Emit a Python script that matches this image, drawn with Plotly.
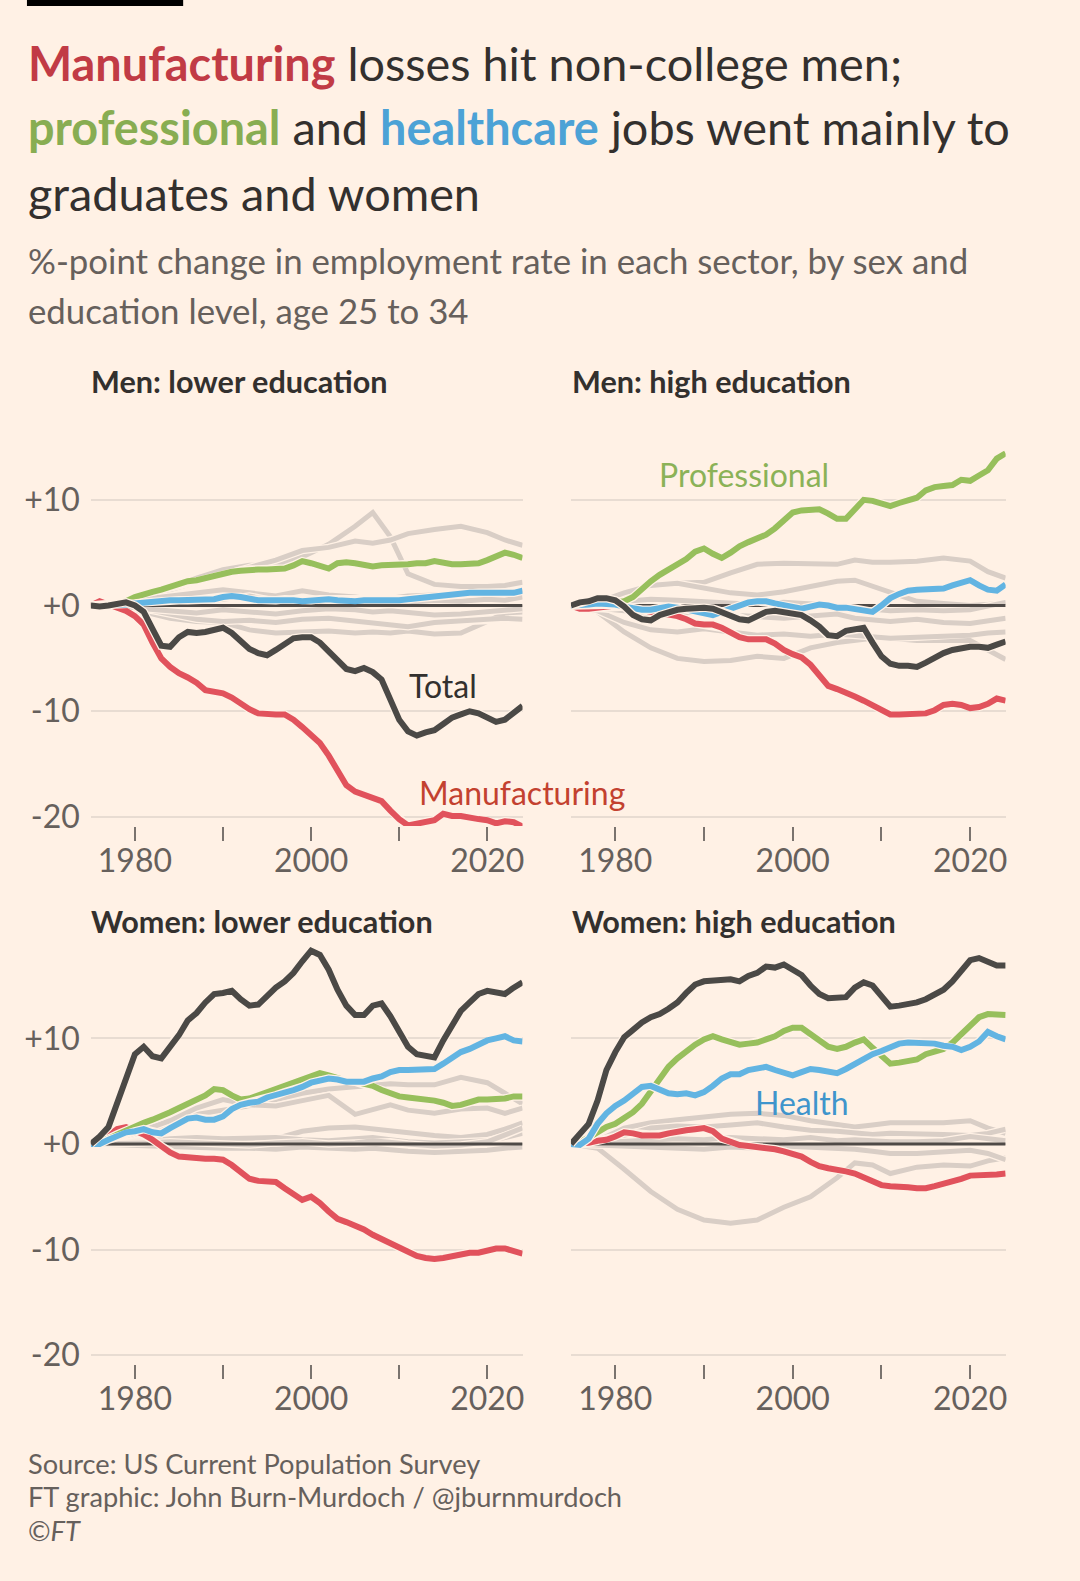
import plotly.graph_objects as go

# ---------------- data ----------------
YEARS = list(range(1975, 2025))
GYEARS = [1975, 1978, 1981, 1984, 1987, 1990, 1993, 1996, 1999, 2002, 2005,
          2007, 2009, 2011, 2014, 2017, 2020, 2022, 2024]

# Men: lower education
ML_TOT = [0.0, -0.1, 0.0, 0.2, 0.3, 0.0, -0.6, -2.2, -3.8, -3.9,
          -3.0, -2.5, -2.6, -2.5, -2.3, -2.1, -2.6, -3.4, -4.1, -4.5,
          -4.7, -4.2, -3.6, -3.1, -3.0, -3.0, -3.5, -4.4, -5.2, -6.0,
          -6.2, -5.9, -6.3, -7.0, -8.9, -10.8, -11.9, -12.3, -12.0, -11.8,
          -11.2, -10.6, -10.3, -10.0, -10.2, -10.6, -11.0, -10.8, -10.2, -9.5]
ML_MFG = [0.0, 0.4, 0.1, -0.2, -0.5, -1.0, -1.8, -3.5, -5.0, -5.8,
          -6.4, -6.8, -7.3, -8.0, -8.2, -8.3, -8.7, -9.3, -9.8, -10.2,
          -10.3, -10.3, -10.3, -10.8, -11.5, -12.3, -13.0, -14.2, -15.6, -17.0,
          -17.6, -17.9, -18.1, -18.5, -19.4, -20.2, -20.8, -20.6, -20.5, -20.3,
          -19.7, -19.9, -19.9, -20.1, -20.2, -20.3, -20.6, -20.4, -20.5, -20.9]
ML_PRO = [0.0, 0.0, 0.1, 0.2, 0.4, 0.8, 1.1, 1.3, 1.5, 1.8,
          2.1, 2.3, 2.4, 2.6, 2.9, 3.1, 3.2, 3.3, 3.4, 3.4,
          3.4, 3.5, 3.5, 3.8, 4.2, 4.0, 3.7, 3.5, 4.0, 4.1,
          4.0, 3.8, 3.7, 3.8, 3.8, 3.9, 3.9, 4.0, 4.0, 4.2,
          4.0, 3.9, 3.9, 3.9, 4.0, 4.3, 4.7, 5.0, 4.8, 4.5]
ML_HLT = [0.0, 0.0, 0.0, 0.0, 0.1, 0.2, 0.3, 0.4, 0.5, 0.5,
          0.5, 0.5, 0.5, 0.5, 0.6, 0.8, 0.9, 0.8, 0.6, 0.5,
          0.5, 0.5, 0.6, 0.5, 0.4, 0.5, 0.6, 0.6, 0.5, 0.4,
          0.4, 0.5, 0.5, 0.4, 0.4, 0.5, 0.6, 0.7, 0.8, 0.9,
          0.9, 1.0, 1.2, 1.2, 1.2, 1.2, 1.1, 1.2, 1.2, 1.4]
ML_GRAY = [
    [0, 0.2, 0.8, 1.6, 2.6, 3.4, 3.8, 3.8, 4.6, 5.8, 7.5, 8.8, 6.5, 3.0, 2.0, 1.8, 1.8, 1.9, 2.2],
    [0, 0.3, 0.8, 1.5, 2.2, 2.8, 3.5, 4.3, 5.2, 5.5, 6.1, 5.9, 6.2, 6.8, 7.2, 7.5, 6.9, 6.2, 5.7],
    [0, 0.3, 0.6, 0.9, 1.3, 1.5, 1.2, 0.9, 1.4, 1.0, 0.8, 0.6, 0.7, 0.9, 1.0, 1.1, 0.8, 1.0, 1.5],
    [0, -0.2, -0.6, -1.2, -1.5, -1.6, -2.3, -2.6, -2.5, -2.4, -2.6, -2.5, -2.6, -2.4, -2.7, -2.6, -1.5, -0.7, -0.6],
    [0, -0.1, -0.3, -0.8, -1.3, -1.5, -1.4, -1.6, -1.3, -1.2, -1.5, -1.7, -1.9, -2.0, -1.6, -1.5, -1.3, -1.2, -1.3],
    [0, 0.0, -0.3, -0.5, -0.7, -0.4, -0.6, -0.8, -0.5, -0.3, -0.4, -0.6, -0.5, -0.7, -0.9, -0.8, -0.6, -0.4, -0.3],
    [0, 0.1, 0.2, 0.4, 0.3, 0.6, 0.9, 0.4, 0.2, 0.5, 0.3, 0.2, 0.1, 0.3, 0.5, 0.4, 0.6, 0.5, 0.8],
]

# Men: high education
MH_TOT = [0.0, 0.3, 0.4, 0.7, 0.7, 0.5, -0.1, -0.9, -1.3, -1.4,
          -0.9, -0.6, -0.4, -0.3, -0.2, -0.2, -0.3, -0.6, -1.0, -1.3,
          -1.4, -1.0, -0.6, -0.5, -0.6, -0.8, -0.9, -1.4, -2.0, -2.8,
          -2.9, -2.4, -2.3, -2.1, -3.5, -4.8, -5.5, -5.7, -5.7, -5.8,
          -5.4, -4.9, -4.5, -4.2, -4.0, -3.9, -3.9, -4.0, -3.7, -3.4]
MH_MFG = [0.0, -0.3, -0.3, -0.2, -0.1, 0.0, -0.1, -0.3, -0.5, -0.6,
          -0.7, -0.8, -1.0, -1.3, -1.7, -1.8, -1.8, -2.1, -2.5, -3.0,
          -3.2, -3.2, -3.2, -3.6, -4.2, -4.6, -4.9, -5.6, -6.7, -7.6,
          -7.9, -8.2, -8.6, -9.0, -9.4, -9.9, -10.3, -10.3, -10.3, -10.3,
          -10.2, -9.9, -9.4, -9.3, -9.4, -9.7, -9.6, -9.3, -8.8, -9.0]
MH_PRO = [0.0, 0.0, 0.2, 0.3, 0.4, 0.3, 0.4, 0.8, 1.6, 2.3,
          2.9, 3.4, 3.8, 4.4, 5.1, 5.4, 4.9, 4.5, 5.0, 5.6,
          6.0, 6.4, 6.7, 7.3, 8.0, 8.8, 9.0, 9.0, 9.1, 8.7,
          8.2, 8.2, 9.2, 10.0, 9.9, 9.6, 9.4, 9.7, 10.0, 10.2,
          10.9, 11.2, 11.3, 11.4, 11.9, 11.8, 12.3, 12.8, 13.9, 14.4]
MH_HLT = [0.0, 0.0, 0.1, 0.2, 0.2, 0.1, -0.1, -0.3, -0.4, -0.4,
          -0.2, -0.1, -0.2, -0.4, -0.6, -0.8, -0.9, -0.6, -0.3, 0.1,
          0.3, 0.4, 0.4, 0.2, 0.0, -0.2, -0.3, -0.1, 0.1, 0.0,
          -0.2, -0.2, -0.3, -0.5, -0.6, 0.0, 0.7, 1.1, 1.4, 1.5,
          1.5, 1.5, 1.6, 1.9, 2.1, 2.4, 1.9, 1.5, 1.4, 2.0]
MH_GRAY = [
    [0, 0.4, 1.0, 1.9, 2.1, 2.2, 3.1, 3.9, 4.0, 3.9, 3.9, 4.3, 4.1, 4.1, 4.2, 4.5, 4.2, 3.2, 2.6],
    [0, 0.3, 1.2, 1.9, 2.1, 1.6, 1.2, 1.0, 1.3, 1.8, 2.3, 2.4, 1.8, 1.2, 0.4, 0.2, 0.0, 0.1, 0.3],
    [0, -0.6, -2.5, -4.0, -5.0, -5.3, -5.2, -4.8, -5.0, -4.0, -3.5, -3.3, -3.1, -3.1, -3.3, -3.3, -3.3, -4.2, -5.1],
    [0, -0.5, -1.6, -2.3, -2.5, -2.2, -2.5, -2.8, -2.7, -2.9, -2.7, -2.8, -3.0, -3.1, -3.0, -2.9, -2.8, -2.6, -2.5],
    [0, -0.2, -0.5, -0.8, -0.7, -0.6, -0.9, -1.0, -1.2, -1.0, -0.8, -1.2, -1.3, -1.5, -1.3, -1.6, -1.7, -1.5, -1.2],
    [0, 0.2, 0.3, 0.6, 0.5, 0.4, 0.3, 0.1, 0.3, 0.2, 0.0, -0.2, -0.3, -0.5, -0.4, -0.5, -0.4, -0.1, 0.3],
]

# Women: lower education
WL_TOT = [0.0, 0.7, 1.6, 3.8, 6.3, 8.5, 9.2, 8.3, 8.1, 9.2,
          10.3, 11.7, 12.4, 13.4, 14.2, 14.3, 14.5, 13.7, 13.1, 13.2,
          14.0, 14.8, 15.4, 16.2, 17.3, 18.3, 17.9, 16.5, 14.6, 13.1,
          12.2, 12.2, 13.1, 13.3, 12.1, 10.7, 9.2, 8.5, 8.4, 8.2,
          9.8, 11.3, 12.6, 13.4, 14.2, 14.5, 14.4, 14.2, 14.8, 15.3]
WL_MFG = [0.0, 0.3, 0.8, 1.4, 1.6, 1.3, 0.9, 0.4, -0.2, -0.8,
          -1.2, -1.3, -1.3, -1.4, -1.4, -1.5, -2.0, -2.6, -3.3, -3.5,
          -3.5, -3.6, -4.2, -4.8, -5.3, -5.0, -5.6, -6.4, -7.1, -7.4,
          -7.7, -8.1, -8.6, -9.0, -9.5, -9.8, -10.2, -10.6, -10.8, -10.9,
          -10.8, -10.6, -10.4, -10.3, -10.3, -10.1, -9.9, -9.9, -10.1, -10.4]
WL_PRO = [0.0, 0.2, 0.5, 0.9, 1.3, 1.7, 2.0, 2.3, 2.6, 3.0,
          3.4, 3.8, 4.2, 4.6, 5.2, 5.1, 4.6, 4.2, 4.3, 4.6,
          4.9, 5.2, 5.5, 5.8, 6.1, 6.3, 6.7, 6.5, 6.2, 6.0,
          5.9, 5.7, 5.5, 5.1, 4.8, 4.5, 4.4, 4.3, 4.3, 4.1,
          3.9, 3.6, 3.7, 4.0, 4.2, 4.2, 4.2, 4.3, 4.5, 4.5]
WL_HLT = [0.0, 0.0, 0.4, 0.7, 1.1, 1.2, 1.4, 1.1, 1.0, 1.5,
          1.9, 2.4, 2.5, 2.3, 2.3, 2.6, 3.3, 3.7, 3.9, 4.0,
          4.4, 4.6, 4.9, 5.1, 5.4, 5.8, 6.0, 6.2, 6.1, 5.9,
          5.9, 5.9, 6.2, 6.4, 6.8, 7.0, 7.0, 7.0, 7.0, 7.1,
          7.6, 8.2, 8.7, 9.0, 9.4, 9.8, 10.0, 10.2, 9.8, 9.7]
WL_GRAY = [
    [0, 0.4, 1.2, 2.0, 2.8, 3.2, 3.6, 4.2, 4.8, 5.2, 5.4, 5.5, 5.7, 5.6, 5.6, 6.3, 5.8, 4.8, 3.8],
    [0, 0.5, 1.3, 2.2, 3.4, 4.2, 3.7, 3.6, 4.1, 4.6, 2.8, 3.2, 3.7, 3.2, 2.9, 3.3, 3.4, 2.9, 3.4],
    [0, 0.1, 0.3, 0.5, 0.6, 0.6, 0.5, 0.5, 1.2, 1.5, 1.6, 1.4, 1.2, 1.1, 0.8, 0.6, 0.9, 1.4, 2.0],
    [0, 0.1, 0.2, 0.5, 0.6, 0.5, 0.5, 0.6, 0.4, 0.3, 0.5, 0.6, 0.4, 0.2, 0.1, 0.2, 0.3, 0.6, 1.0],
    [0, -0.1, -0.2, -0.3, -0.3, -0.4, -0.4, -0.5, -0.3, -0.4, -0.5, -0.4, -0.6, -0.7, -0.8, -0.7, -0.6, -0.4, -0.3],
    [0, 0.0, 0.1, 0.2, 0.1, 0.0, -0.1, 0.1, 0.2, 0.0, 0.1, 0.3, 0.2, 0.0, -0.2, -0.1, 0.2, 0.8, 1.5],
]

# Women: high education
WH_TOT = [0.0, 1.0, 1.9, 4.1, 7.0, 8.7, 10.1, 10.8, 11.5, 12.0,
          12.3, 12.8, 13.4, 14.3, 15.1, 15.4, 15.5, 15.5, 15.6, 15.4,
          15.9, 16.2, 16.8, 16.7, 17.0, 16.5, 16.0, 15.0, 14.2, 13.8,
          13.8, 13.9, 14.8, 15.3, 15.0, 13.9, 13.0, 13.1, 13.2, 13.4,
          13.7, 14.1, 14.6, 15.4, 16.5, 17.4, 17.6, 17.3, 16.9, 16.9]
WH_MFG = [0.0, 0.0, 0.1, 0.3, 0.4, 0.7, 1.1, 1.0, 0.8, 0.8,
          0.8, 1.0, 1.2, 1.3, 1.4, 1.5, 1.2, 0.5, 0.2, -0.1,
          -0.2, -0.3, -0.3, -0.5, -0.7, -0.9, -1.2, -1.7, -2.1, -2.3,
          -2.4, -2.6, -2.8, -3.2, -3.6, -3.9, -4.0, -4.0, -4.1, -4.2,
          -4.2, -4.0, -3.8, -3.5, -3.3, -3.0, -3.0, -3.0, -2.9, -2.8]
WH_PRO = [0.0, 0.2, 0.6, 1.1, 1.6, 1.9, 2.4, 3.0, 3.8, 4.9,
          6.0, 7.3, 8.1, 8.8, 9.4, 9.9, 10.2, 9.9, 9.7, 9.4,
          9.5, 9.6, 9.9, 10.2, 10.7, 11.0, 11.0, 10.4, 9.8, 9.2,
          9.0, 9.2, 9.6, 9.9, 9.1, 8.3, 7.6, 7.7, 7.8, 8.0,
          8.5, 8.7, 9.0, 9.6, 10.4, 11.2, 12.0, 12.3, 12.3, 12.2]
WH_HLT = [0.0, -0.1, 0.5, 1.9, 2.9, 3.6, 4.1, 4.8, 5.4, 5.5,
          5.1, 4.8, 4.7, 4.8, 4.6, 4.9, 5.5, 6.2, 6.6, 6.6,
          7.0, 7.1, 7.3, 7.0, 6.7, 6.5, 6.8, 7.1, 7.0, 6.8,
          6.7, 7.1, 7.6, 8.1, 8.5, 8.8, 9.2, 9.5, 9.6, 9.6,
          9.5, 9.5, 9.3, 9.2, 8.9, 9.2, 9.7, 10.6, 10.2, 9.9]
WH_GRAY = [
    [0, -0.4, -2.4, -4.5, -6.2, -7.2, -7.5, -7.2, -6.0, -5.0, -3.2, -1.8, -2.0, -2.8, -2.2, -2.0, -2.1, -1.6, -1.3],
    [0, 0.3, 1.5, 2.0, 2.3, 2.6, 2.8, 2.9, 2.7, 2.2, 1.8, 1.6, 1.8, 2.0, 2.0, 2.0, 2.2, 1.5, 1.0],
    [0, 0.2, 0.8, 1.5, 1.7, 1.6, 1.8, 2.0, 1.6, 1.3, 1.2, 1.1, 0.9, 1.0, 1.0, 0.9, 0.8, 1.0, 1.4],
    [0, -0.1, -0.2, -0.3, -0.4, -0.5, -0.3, -0.4, -0.2, -0.3, -0.4, -0.5, -0.7, -0.9, -0.9, -0.8, -0.6, -0.9, -1.5],
    [0, 0.1, 0.3, 0.4, 0.5, 0.4, 0.6, 0.5, 0.4, 0.6, 0.3, 0.4, 0.3, 0.2, 0.2, 0.3, 0.7, 0.5, 0.3],
]

PANEL_TITLES = ["Men: lower education", "Men: high education",
                "Women: lower education", "Women: high education"]
Y_TICKS = [-20, -10, 0, 10]
Y_TICKTEXT = ["-20", "-10", "+0", "+10"]
X_TICKS = [1980, 1990, 2000, 2010, 2020]
X_TICKTEXT = ["1980", "", "2000", "", "2020"]

# ---------------- style ----------------
W, H = 1080, 1581
BG = "#FFF1E5"
FONT = "Lato"
TXT = "#33302E"
MUTED = "#66605C"
GRID = "#E8DCD2"
C_GRAY = "#D9CEC6"
C_RED = "#E1525C"
C_GREEN = "#97BF5C"
C_BLUE = "#62B4E2"
C_BLACK = "#4B4946"
C_ZERO = "#4F4A47"


def px(x):
    return x / W


def py(y):
    return 1 - y / H


fig = go.Figure()

panels = [
    (ML_GRAY, ML_MFG, ML_PRO, ML_HLT, ML_TOT),
    (MH_GRAY, MH_MFG, MH_PRO, MH_HLT, MH_TOT),
    (WL_GRAY, WL_MFG, WL_PRO, WL_HLT, WL_TOT),
    (WH_GRAY, WH_MFG, WH_PRO, WH_HLT, WH_TOT),
]


def add_line(xs, ys, color, width, idx):
    xa = "x" if idx == 0 else f"x{idx + 1}"
    ya = "y" if idx == 0 else f"y{idx + 1}"
    fig.add_trace(go.Scatter(x=xs, y=ys, mode="lines", xaxis=xa, yaxis=ya,
                             line=dict(color=BG, width=width + 2.5),
                             hoverinfo="skip", showlegend=False))
    fig.add_trace(go.Scatter(x=xs, y=ys, mode="lines", xaxis=xa, yaxis=ya,
                             line=dict(color=color, width=width),
                             hoverinfo="skip", showlegend=False))


for i, (grays, mfg, pro, hlt, tot) in enumerate(panels):
    for g in grays:
        add_line(GYEARS, g, C_GRAY, 5, i)
    xa = "x" if i == 0 else f"x{i + 1}"
    ya = "y" if i == 0 else f"y{i + 1}"
    fig.add_trace(go.Scatter(x=[YEARS[0], YEARS[-1]], y=[0, 0], mode="lines",
                             xaxis=xa, yaxis=ya, line=dict(color=C_ZERO, width=3),
                             hoverinfo="skip", showlegend=False))
    add_line(YEARS, mfg, C_RED, 6, i)
    add_line(YEARS, pro, C_GREEN, 6, i)
    add_line(YEARS, hlt, C_BLUE, 6, i)
    add_line(YEARS, tot, C_BLACK, 6, i)

# axes geometry (pixels)
X_DOM = [(91, 523.5), (572, 1007.5)]
Y_DOM = [(444.2, 830.7), (943.4, 1371.9)]
Y_RNG = [[-20.85, 15.5], [-20.85, 19.5]]

layout_axes = {}
for i in range(4):
    col = i % 2
    row = i // 2
    xk = "xaxis" if i == 0 else f"xaxis{i + 1}"
    yk = "yaxis" if i == 0 else f"yaxis{i + 1}"
    ya = "y" if i == 0 else f"y{i + 1}"
    xa = "x" if i == 0 else f"x{i + 1}"
    layout_axes[xk] = dict(
        domain=[px(X_DOM[col][0]), px(X_DOM[col][1])], range=[1975, 2024],
        anchor=ya, showgrid=False, zeroline=False, showline=False,
        tickmode="array", tickvals=X_TICKS, ticktext=X_TICKTEXT,
        ticks="outside", ticklen=14, tickwidth=1.5, tickcolor="#7A736E",
        ticklabelstandoff=-7,
        tickfont=dict(family=FONT, size=32, color=MUTED), fixedrange=True)
    layout_axes[yk] = dict(
        domain=[py(Y_DOM[row][1]), py(Y_DOM[row][0])], range=Y_RNG[row],
        anchor=xa, showgrid=True, gridcolor=GRID, gridwidth=1.5,
        zeroline=False, showline=False,
        tickmode="array", tickvals=Y_TICKS, ticktext=Y_TICKTEXT,
        showticklabels=(col == 0), ticks="", ticklabelstandoff=10,
        tickfont=dict(family=FONT, size=32, color=MUTED), fixedrange=True)

fig.update_layout(**layout_axes)

ann = []
# title
TITLE_LINES = [
    '<span style="color:#C13B45"><b>Manufacturing</b></span> losses hit non-college men;',
    '<span style="color:#88AD52"><b>professional</b></span> and '
    '<span style="color:#4CA2D6"><b>healthcare</b></span> jobs went mainly to',
    'graduates and women',
]
for t, yy in zip(TITLE_LINES, [63, 128, 194.5]):
    ann.append(dict(text=t, x=px(26), y=py(yy), xref="paper", yref="paper",
                    xanchor="left", yanchor="middle", showarrow=False,
                    font=dict(family=FONT, size=46.8, color=TXT)))
SUB_LINES = ["%-point change in employment rate in each sector, by sex and",
             "education level, age 25 to 34"]
for t, yy in zip(SUB_LINES, [262, 312.5]):
    ann.append(dict(text=t, x=px(26), y=py(yy), xref="paper", yref="paper",
                    xanchor="left", yanchor="middle", showarrow=False,
                    font=dict(family=FONT, size=34.8, color=MUTED)))
# panel titles
for i, t in enumerate(PANEL_TITLES):
    col, row = i % 2, i // 2
    ann.append(dict(text=f"<b>{t}</b>", x=px([89, 571][col]), y=py([384, 927][row]),
                    xref="paper", yref="paper", xanchor="left", yanchor="middle",
                    showarrow=False, font=dict(family=FONT, size=30.6, color=TXT)))
# line labels
ann.append(dict(text="Total", x=2015, y=-7.6, xref="x", yref="y", showarrow=False,
                font=dict(family=FONT, size=32, color=TXT)))
ann.append(dict(text="Manufacturing", x=2023.9, y=-17.7, xref="x", yref="y", showarrow=False,
                font=dict(family=FONT, size=32, color="#C3412F")))
ann.append(dict(text="Professional", x=1994.5, y=12.4, xref="x2", yref="y2", showarrow=False,
                font=dict(family=FONT, size=32, color="#8BB257")))
ann.append(dict(text="Health", x=2001, y=3.95, xref="x4", yref="y4", showarrow=False,
                font=dict(family=FONT, size=32, color="#3F95CC")))
# source
SRC_LINES = ["Source: US Current Population Survey",
             "FT graphic: John Burn-Murdoch / @jburnmurdoch",
             "©<i>FT</i>"]
for t, yy in zip(SRC_LINES, [1472, 1505, 1539]):
    ann.append(dict(text=t, x=px(26), y=py(yy), xref="paper", yref="paper",
                    xanchor="left", yanchor="middle", showarrow=False,
                    font=dict(family=FONT, size=27.2, color=MUTED)))

fig.update_layout(
    width=W, height=H, margin=dict(l=0, r=0, t=0, b=0),
    paper_bgcolor=BG, plot_bgcolor=BG, showlegend=False,
    annotations=ann,
    shapes=[dict(type="rect", xref="paper", yref="paper", x0=px(27), x1=px(183.5),
                 y0=py(6), y1=1, fillcolor="#000000", line=dict(width=0))],
)

fig.write_html(
    "out.html",
    config={"displayModeBar": False},
    post_script="document.body.style.margin='0';document.body.style.overflow='hidden';"
                "document.body.style.background='" + BG + "';",
)
